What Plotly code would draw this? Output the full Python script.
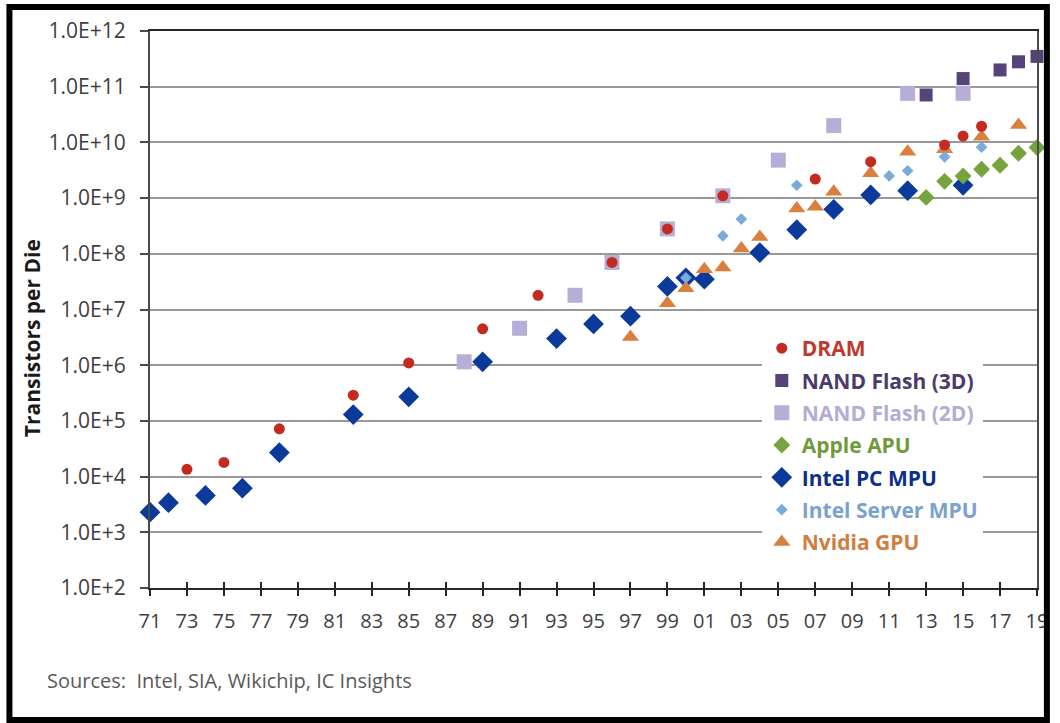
import plotly.graph_objects as go

# ---------------- data ----------------
dram_years = [1973, 1975, 1978, 1982, 1985, 1989, 1992, 1996, 1999, 2002, 2007, 2010, 2014, 2015, 2016]
dram_vals = [1.35e4, 1.8e4, 7.2e4, 2.9e5, 1.1e6, 4.5e6, 1.8e7, 7.0e7, 2.8e8, 1.1e9, 2.2e9, 4.5e9, 9.0e9, 1.3e10, 1.95e10]

nand3d_years = [2013, 2015, 2017, 2018, 2019]
nand3d_vals = [7.1e10, 1.4e11, 2.0e11, 2.8e11, 3.5e11]

nand2d_years = [1988, 1991, 1994, 1996, 1999, 2002, 2005, 2008, 2012, 2015]
nand2d_vals = [1.15e6, 4.6e6, 1.8e7, 7.0e7, 2.8e8, 1.1e9, 4.8e9, 2.0e10, 7.6e10, 7.6e10]

apple_years = [2013, 2014, 2015, 2016, 2017, 2018, 2019]
apple_vals = [1.03e9, 2.0e9, 2.5e9, 3.3e9, 3.9e9, 6.4e9, 8.1e9]

intelpc_years = [1971, 1972, 1974, 1976, 1978, 1982, 1985, 1989, 1993, 1995, 1997, 1999,
                 2000, 2001, 2004, 2006, 2008, 2010, 2012, 2015]
intelpc_vals = [2.3e3, 3.4e3, 4.6e3, 6.2e3, 2.7e4, 1.3e5, 2.7e5, 1.15e6, 3.0e6, 5.5e6, 7.6e6, 2.6e7,
                3.7e7, 3.5e7, 1.05e8, 2.7e8, 6.3e8, 1.14e9, 1.36e9, 1.7e9]

server_years = [2000, 2002, 2003, 2006, 2011, 2012, 2014, 2016]
server_vals = [3.7e7, 2.1e8, 4.2e8, 1.7e9, 2.5e9, 3.1e9, 5.5e9, 8.2e9]

nvidia_years = [1997, 1999, 2000, 2001, 2002, 2003, 2004, 2006, 2007, 2008, 2010, 2012, 2014, 2016, 2018]
nvidia_vals = [3.2e6, 1.3e7, 2.4e7, 5.3e7, 5.7e7, 1.25e8, 2.0e8, 6.5e8, 7.0e8, 1.3e9, 2.8e9, 6.8e9, 7.5e9, 1.26e10, 2.05e10]

x_tick_years = list(range(1971, 2020, 2))
x_tick_labels = [f"{y % 100:02d}" for y in x_tick_years]
y_tick_vals = [10 ** e for e in range(2, 13)]
y_tick_labels = [f"1.0E+{e}" for e in range(2, 13)]

FONT = "Open Sans"

# (name, years, values, symbol, size, fill colour, text colour, legend rank)
series = [
    ("NAND Flash (2D)", nand2d_years, nand2d_vals, "square", 15, "#b6aed6", "#b3acd3", 3),
    ("NAND Flash (3D)", nand3d_years, nand3d_vals, "square", 13, "#56437a", "#4b3a6b", 2),
    ("Intel PC MPU", intelpc_years, intelpc_vals, "diamond", 16, "#0b3a9a", "#0d2f8c", 5),
    ("Apple APU", apple_years, apple_vals, "diamond", 13, "#75a33e", "#6f9a3a", 4),
    ("Nvidia GPU", nvidia_years, nvidia_vals, "triangle-up", 15, "#da803f", "#d07d3f", 7),
    ("Intel Server MPU", server_years, server_vals, "diamond", 9, "#7aaad6", "#7ba2cc", 6),
    ("DRAM", dram_years, dram_vals, "circle", 11, "#c42a20", "#c0392b", 1),
]

fig = go.Figure()
for name, xs, ys, sym, size, col, tcol, rank in series:
    fig.add_trace(go.Scatter(
        x=xs, y=ys, mode="markers",
        name=f"<span style='color:{tcol}'><b>{name}</b></span>",
        legendrank=rank, legendgroup=name,
        marker=dict(symbol=sym, size=size, color=col, line=dict(width=0)),
        cliponaxis=False,
    ))

# empty helper trace so that the overlay axis (inside tick marks) is drawn
fig.add_trace(go.Scatter(x=[], y=[], xaxis="x2", yaxis="y", mode="markers",
                         showlegend=False, hoverinfo="skip"))

W, H = 1060, 723
L, R, T, B = 150, 14, 31, 135
pw, ph = W - L - R, H - T - B


def px_x(p):
    return (p - L) / pw


def px_y(p):
    return (H - B - p) / ph


fig.update_layout(
    width=W, height=H,
    margin=dict(l=L, r=R, t=T, b=B, pad=0),
    paper_bgcolor="white", plot_bgcolor="white",
    font=dict(family=FONT, color="#404040"),
    showlegend=True,
    legend=dict(
        x=px_x(768), y=px_y(328), xanchor="left", yanchor="top",
        bgcolor="white", borderwidth=0,
        font=dict(family=FONT, size=21),
        tracegroupgap=2, itemsizing="trace",
    ),
    xaxis=dict(
        range=[1971, 2019], tickmode="array", tickvals=x_tick_years, ticktext=x_tick_labels,
        showgrid=False, zeroline=False,
        showline=True, linecolor="#262626", linewidth=2, mirror=True,
        ticks="outside", ticklen=6, tickwidth=2, tickcolor="#262626",
        tickfont=dict(family=FONT, size=20, color="#404040"),
        ticklabelstandoff=8,
    ),
    xaxis2=dict(
        range=[1971, 2019], overlaying="x", anchor="y", side="bottom",
        tickmode="array", tickvals=x_tick_years, showticklabels=False,
        showgrid=False, zeroline=False, showline=False,
        ticks="inside", ticklen=6, tickwidth=2, tickcolor="#262626",
    ),
    yaxis=dict(
        type="log", range=[2, 12], tickmode="array", tickvals=y_tick_vals, ticktext=y_tick_labels,
        showgrid=True, gridcolor="#999999", gridwidth=1.7, zeroline=False,
        showline=True, linecolor="#4a4a4a", linewidth=2, mirror=True,
        ticks="outside", ticklen=8, tickwidth=2, tickcolor="#4a4a4a",
        tickfont=dict(family=FONT, size=21, color="#404040"),
        ticklabelstandoff=10,
    ),
    annotations=[
        dict(text="<b>Transistors per Die</b>", textangle=-90,
             xref="paper", yref="paper", x=px_x(31), y=px_y(338),
             xanchor="center", yanchor="middle", showarrow=False,
             font=dict(family=FONT, size=21, color="#1a1a1a")),
        dict(text="Sources:  Intel, SIA, Wikichip, IC Insights",
             xref="paper", yref="paper", x=px_x(44), y=px_y(680),
             xanchor="left", yanchor="middle", showarrow=False,
             font=dict(family=FONT, size=20, color="#595959")),
    ],
    shapes=[
        dict(type="rect", xref="paper", yref="paper",
             x0=px_x(8), x1=px_x(1056), y0=px_y(720), y1=px_y(7),
             line=dict(color="black", width=6), fillcolor="rgba(0,0,0,0)", layer="above"),
    ],
)

fig.write_html("out.html")
